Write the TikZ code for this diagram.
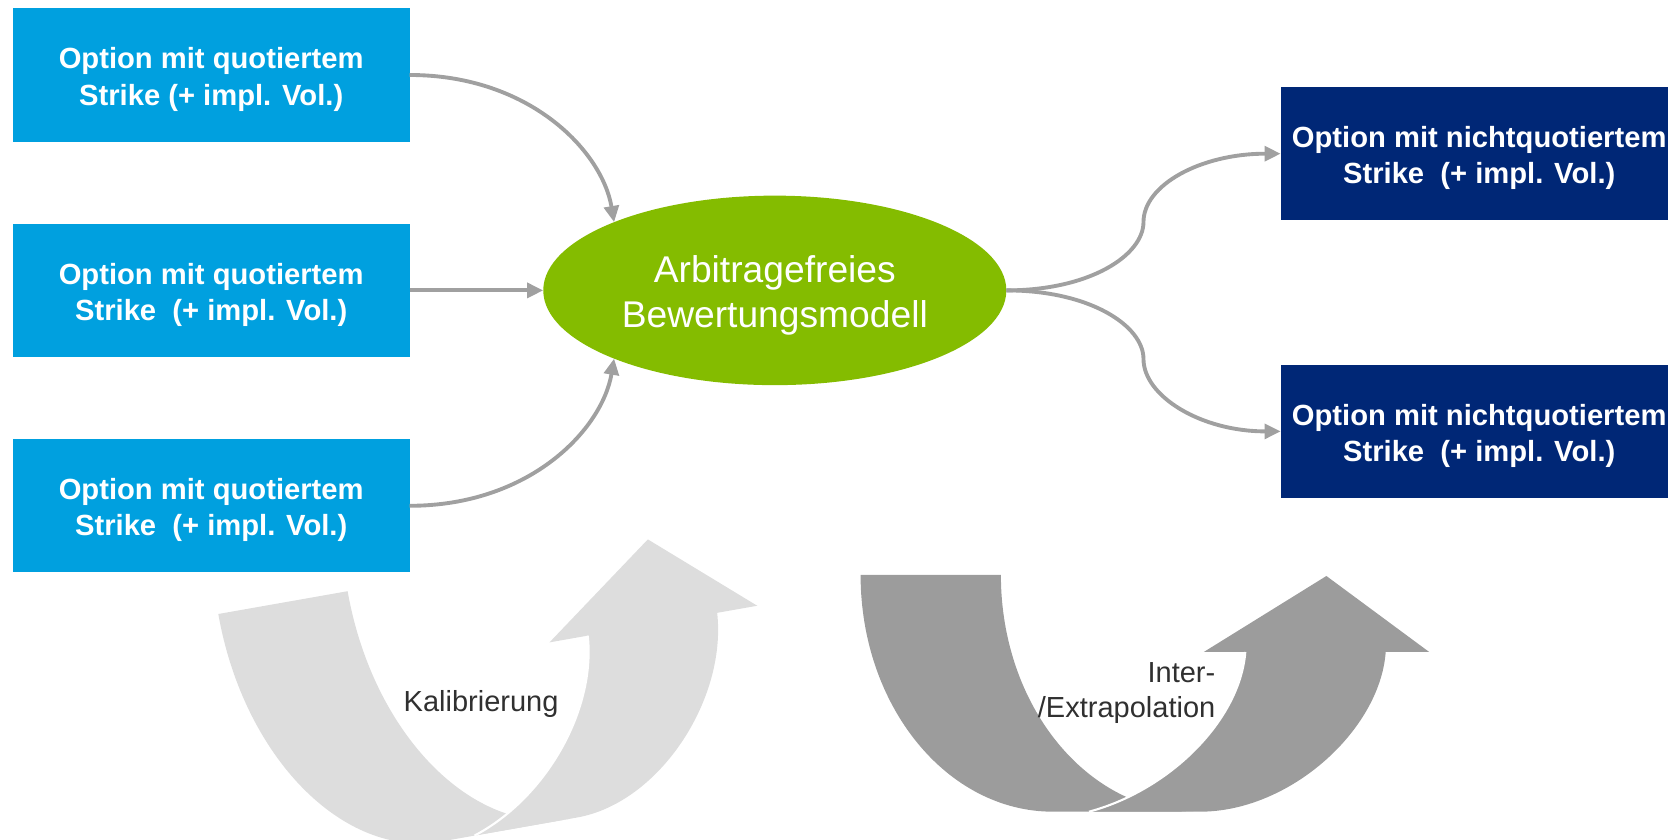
\documentclass[tikz,border=0pt]{standalone}
\usepackage{fontspec}
\setmainfont{Liberation Sans}
\usetikzlibrary{arrows.meta,shapes.geometric}
\definecolor{boxblue}{RGB}{0,160,223}
\definecolor{navyblue}{RGB}{0,39,118}
\definecolor{modelgreen}{RGB}{132,188,0}
\definecolor{conngray}{RGB}{160,160,160}
\definecolor{lightarrow}{RGB}{221,221,221}
\definecolor{darkarrow}{RGB}{156,156,156}
\definecolor{labelgray}{RGB}{48,48,48}
\newcommand{\boxstrut}{\rule{0pt}{1.03em}}
\newcommand{\modelstrut}{\rule{0pt}{0.99em}}
\newcommand{\UTurnArrow}[1]{%
  \fill[#1] (0,0) -- (140.3,0) .. controls (140.3,130.7) and (226.4,236.7) .. (332.7,236.7)
     -- (192.4,236.7) .. controls (86.1,236.7) and (0,130.7) .. (0,0) -- cycle;
  \fill[#1] (228.4,236.7) .. controls (309.4,215) and (379.4,145) .. (384.7,77)
     -- (343.2,77) -- (465.8,1) -- (568.6,77) -- (525.1,77)
     .. controls (519.4,155) and (429.4,236.7) .. (339.4,236.7) -- cycle;
  \draw[white, line width=0.6pt] (228.4,236.7) .. controls (309.4,215) and (379.4,145) .. (384.7,77);
}
\begin{document}
\begin{tikzpicture}[x=0.01cm,y=-0.01cm,
  quoted/.style={fill=boxblue, text=white, minimum width=3.968cm, minimum height=1.33cm,
    inner sep=0pt, outer sep=0pt, align=center, font=\fontsize{8.3}{10.27}\selectfont\bfseries},
  unquoted/.style={quoted, fill=navyblue},
  model/.style={ellipse, fill=modelgreen, text=white, minimum width=4.628cm, minimum height=1.894cm,
    inner sep=0pt, outer sep=0pt, align=center, font=\fontsize{10.58}{12.7}\selectfont},
  conn/.style={draw=conngray, line width=1.1pt, -{Triangle[length=4.6pt,width=4.2pt]}},
  arrowlabel/.style={text=labelgray, inner sep=0pt, font=\fontsize{8.25}{9.96}\selectfont}]
\useasboundingbox (0,0) rectangle (1668,840);
\clip (0,0) rectangle (1668,840);

% big curved arrows
\begin{scope}[shift={(218.3,614)}, rotate=10, xscale=0.936, yscale=1.11]
  \UTurnArrow{lightarrow}
\end{scope}
\begin{scope}[shift={(860.6,575)}]
  \UTurnArrow{darkarrow}
\end{scope}

% boxes
\node[quoted] (q1) at (211.2,75) {\boxstrut Option mit quotiertem\\Strike (+ impl. Vol.)};
\node[quoted] (q2) at (211.2,290.4) {\boxstrut Option mit quotiertem\\Strike\ \ (+ impl. Vol.)};
\node[quoted] (q3) at (211.2,505.8) {\boxstrut Option mit quotiertem\\Strike\ \ (+ impl. Vol.)};
\node[unquoted] (r1) at (1479.2,153.7) {\boxstrut Option mit nichtquotiertem\\Strike\ \ (+ impl. Vol.)};
\node[unquoted] (r2) at (1479.2,431.4) {\boxstrut Option mit nichtquotiertem\\Strike\ \ (+ impl. Vol.)};
\node[model] (ell) at (774.8,290.4) {\modelstrut Arbitragefreies\\Bewertungsmodell};

% connectors
\draw[conn] (q1.east) .. controls +(120,0) and +(-12,-71) .. (ell.157);
\draw[conn] (q2.east) -- (ell.west);
\draw[conn] (q3.east) .. controls +(120,0) and +(-12,71) .. (ell.203);
\coordinate (m1) at (1143.5,222);
\coordinate (m2) at (1143.5,359);
\draw[conn] (ell.east) .. controls +(84,0) and +(0,33) .. (m1)
   .. controls +(0,-37) and +(-80,0) .. (r1.west);
\draw[conn] (ell.east) .. controls +(84,0) and +(0,-33) .. (m2)
   .. controls +(0,37) and +(-80,0) .. (r2.west);

% labels
\node[arrowlabel, anchor=base west] (kal) at (403,712) {Kalibrierung};
\node[arrowlabel, anchor=north east, align=right] (extra) at (1216,662) {Inter-\\/Extrapolation};
\end{tikzpicture}
\end{document}
